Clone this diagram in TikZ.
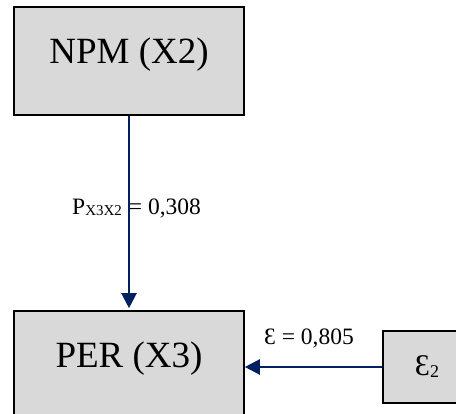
\documentclass[tikz,border=0pt]{standalone}
\usepackage{fontspec}
\setmainfont{Liberation Serif}
\usepackage{xcolor}
\usetikzlibrary{arrows.meta, calc}
\definecolor{pathblue}{RGB}{0,32,96}
\definecolor{boxgray}{RGB}{217,217,217}

\begin{document}
\begin{tikzpicture}[x=1pt, y=-1pt,
    varbox/.style={draw=black, line width=1.6pt, fill=boxgray, inner sep=0pt},
    bigbox/.style={varbox, minimum width=230pt, minimum height=108pt,
        text height=26pt, text depth=20pt, font=\fontsize{37}{40}\selectfont},
    coef/.style={anchor=base west, inner sep=0pt, font=\fontsize{23.5}{25}\selectfont},
    pathline/.style={draw=pathblue, line width=2.2pt, -{Triangle[width=15pt,length=15pt]}}]
    % Page frame
    \useasboundingbox (0,0) rectangle (456,414);
    % Draw variables
    \node[bigbox] (npm) at (129,61) {NPM (X2)};
    \node[bigbox] (per) at (129,365) {PER (X3)};
    \node[varbox, minimum width=88pt, minimum height=72pt,
        font=\fontsize{30}{32}\selectfont] (eps) at (427,367)
        {Ɛ\raisebox{-2pt}{\fontsize{18}{18}\selectfont 2}};
    % Path coefficients
    \node[coef] (pcoef) at (72,215)
        {P\raisebox{-1pt}{\fontsize{15}{15}\selectfont X3X2}\hspace{7pt}= 0,308};
    \node[coef] (ecoef) at (264,345) {Ɛ = 0,805};
    % Draw paths
    \draw[pathline, shorten >=2pt] (npm.south) -- (per.north);
    \draw[pathline] (eps.west) -- (per.east |- eps.west);
\end{tikzpicture}
\end{document}
